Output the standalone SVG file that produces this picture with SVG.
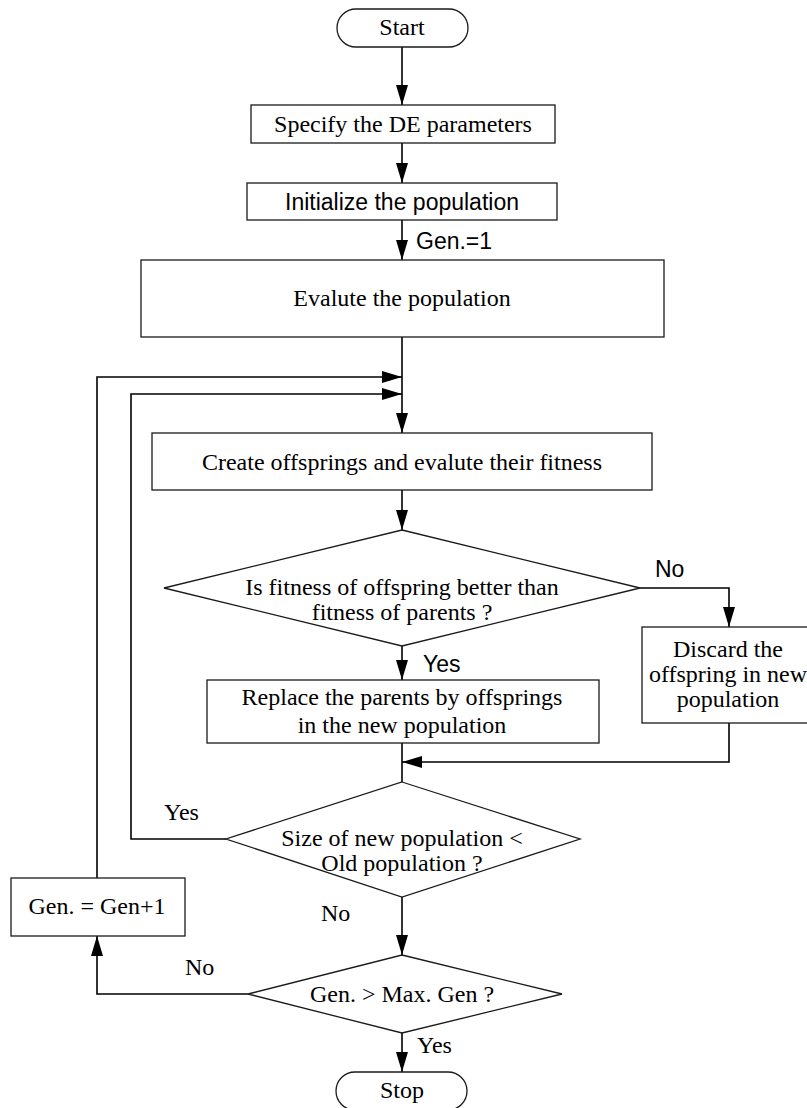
<svg xmlns="http://www.w3.org/2000/svg" width="807" height="1108" viewBox="0 0 807 1108">
  <style>
    .box { fill: #ffffff; stroke: #1a1a1a; stroke-width: 1.3; }
    .wire { fill: none; stroke: #000000; stroke-width: 1.6; }
    .serif { font-family: "Liberation Serif", "Times New Roman", serif; font-size: 24px; fill: #000000; }
    .sans { font-family: "Liberation Sans", Arial, sans-serif; font-size: 23px; fill: #000000; }
    .mid { text-anchor: middle; }
  </style>
  <defs>
    <marker id="arrow" markerUnits="userSpaceOnUse" markerWidth="20" markerHeight="12" refX="20" refY="6" orient="auto">
      <path d="M0,0 L20,6 L0,12 Z" fill="#000000"/>
    </marker>
  </defs>

  <rect width="807" height="1108" fill="#ffffff"/>

  <!-- connectors -->
  <g id="connectors">
    <line class="wire" x1="402" y1="47" x2="402" y2="105" marker-end="url(#arrow)"/>
    <line class="wire" x1="402" y1="143" x2="402" y2="183" marker-end="url(#arrow)"/>
    <line class="wire" x1="402" y1="220" x2="402" y2="260" marker-end="url(#arrow)"/>
    <line class="wire" x1="402" y1="337" x2="402" y2="433" marker-end="url(#arrow)"/>
    <line class="wire" x1="402" y1="490" x2="402" y2="530" marker-end="url(#arrow)"/>
    <!-- fitness test: No branch -->
    <polyline class="wire" points="640,588 729,588 729,627" marker-end="url(#arrow)"/>
    <!-- fitness test: Yes branch -->
    <line class="wire" x1="402" y1="646" x2="402" y2="680" marker-end="url(#arrow)"/>
    <!-- discard rejoins main flow -->
    <polyline class="wire" points="729,723 729,762 402,762" marker-end="url(#arrow)"/>
    <line class="wire" x1="402" y1="743" x2="402" y2="782"/>
    <!-- size test: Yes loops back -->
    <polyline class="wire" points="226,839 131,839 131,394 402,394" marker-end="url(#arrow)"/>
    <!-- size test: No continues -->
    <line class="wire" x1="402" y1="897" x2="402" y2="955" marker-end="url(#arrow)"/>
    <!-- generation test: No -->
    <polyline class="wire" points="248,994 97,994 97,936" marker-end="url(#arrow)"/>
    <!-- next generation loops back -->
    <polyline class="wire" points="97,878 97,377 402,377" marker-end="url(#arrow)"/>
    <!-- generation test: Yes -->
    <line class="wire" x1="402" y1="1033" x2="402" y2="1072" marker-end="url(#arrow)"/>

    <text class="sans" x="416" y="249">Gen.=1</text>
    <text class="sans" x="655" y="577">No</text>
    <text class="sans" x="423" y="672">Yes</text>
    <text class="serif" x="164" y="820">Yes</text>
    <text class="serif" x="321" y="921">No</text>
    <text class="serif" x="185" y="975">No</text>
    <text class="serif" x="417" y="1053">Yes</text>
  </g>

  <g id="start">
    <rect class="box" x="337" y="9" width="131" height="38" rx="19" ry="19"/>
    <text class="serif mid" x="402" y="35">Start</text>
  </g>

  <g id="specify">
    <rect class="box" x="251" y="105" width="304" height="38"/>
    <text class="serif mid" x="403" y="132">Specify the DE parameters</text>
  </g>

  <g id="initialize">
    <rect class="box" x="247" y="183" width="310" height="37"/>
    <text class="sans mid" x="402" y="210">Initialize the population</text>
  </g>

  <g id="evaluate">
    <rect class="box" x="141" y="260" width="523" height="77"/>
    <text class="serif mid" x="402" y="306">Evalute the population</text>
  </g>

  <g id="create">
    <rect class="box" x="152" y="433" width="500" height="57"/>
    <text class="serif mid" x="402" y="470">Create offsprings and evalute their fitness</text>
  </g>

  <g id="fitness-test">
    <polygon class="box" points="402,530 640,588 402,646 164,588"/>
    <text class="serif mid" x="402" y="595">Is fitness of offspring better than</text>
    <text class="serif mid" x="402" y="620">fitness of parents ?</text>
  </g>

  <g id="discard">
    <rect class="box" x="642" y="627" width="180" height="96"/>
    <text class="serif mid" x="728" y="657">Discard the</text>
    <text class="serif mid" x="728" y="682">offspring in new</text>
    <text class="serif mid" x="728" y="707">population</text>
  </g>

  <g id="replace">
    <rect class="box" x="207" y="680" width="392" height="63"/>
    <text class="serif mid" x="402" y="705">Replace the parents by offsprings</text>
    <text class="serif mid" x="402" y="733">in the new population</text>
  </g>

  <g id="size-test">
    <polygon class="box" points="402,782 580,839 402,897 226,839"/>
    <text class="serif mid" x="402" y="846">Size of new population &lt;</text>
    <text class="serif mid" x="402" y="871">Old population ?</text>
  </g>

  <g id="next-gen">
    <rect class="box" x="11" y="878" width="174" height="58"/>
    <text class="serif mid" x="97" y="914">Gen. = Gen+1</text>
  </g>

  <g id="gen-test">
    <polygon class="box" points="402,955 562,994 402,1033 248,994"/>
    <text class="serif mid" x="402" y="1002">Gen. &gt; Max. Gen ?</text>
  </g>

  <g id="stop">
    <rect class="box" x="336" y="1072" width="131" height="38" rx="19" ry="19"/>
    <text class="serif mid" x="402" y="1098">Stop</text>
  </g>
</svg>
